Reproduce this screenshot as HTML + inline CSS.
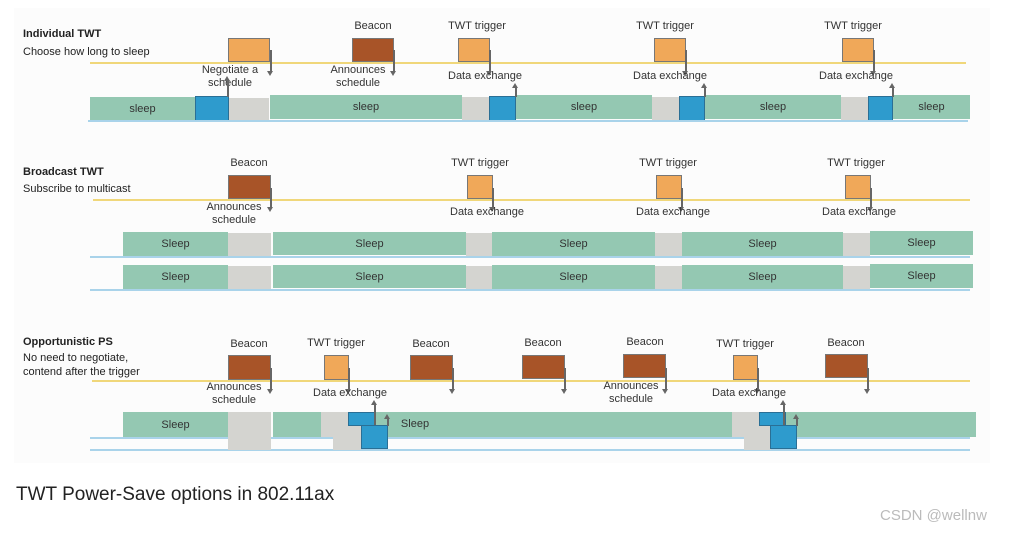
<!DOCTYPE html>
<html><head><meta charset="utf-8"><style>
body{margin:0;width:1012px;height:534px;background:#fff;position:relative;overflow:hidden;font-family:"Liberation Sans",sans-serif;}
.bg{position:absolute;left:14px;top:8px;width:976px;height:455px;background:#fcfcfc;}
div{position:absolute;box-sizing:border-box;}
.g{background:#94c8b2;color:#333;font-size:11px;text-align:center;display:flex;align-items:center;justify-content:center;}
.gr{background:#d4d4d0;}
.bl{background:#2e9bcd;border:1px solid #2a6f95;}
.or{background:#f0a859;border:1.5px solid #777;}
.br{background:#a85428;border:1.5px solid #777;}
.t{font-size:11px;color:#333;white-space:nowrap;text-align:center;line-height:13px;}
.h{font-size:11px;color:#222;white-space:nowrap;line-height:14px;}
.y{height:1.5px;background:#f0d77a;}
.lb{height:2px;background:#a9d3ea;}
.dn{width:1.5px;background:#666;}
.dn::after{content:"";position:absolute;left:-3px;bottom:-4px;border-left:3.5px solid transparent;border-right:3.5px solid transparent;border-top:5px solid #666;}
.up{width:1.5px;background:#666;}
.up::after{content:"";position:absolute;left:-3px;top:-4px;border-left:3.5px solid transparent;border-right:3.5px solid transparent;border-bottom:5px solid #666;}
</style></head><body>
<div class="bg"></div>

<!-- Section 1 -->
<div class="h" style="left:23px;top:27px;font-weight:bold">Individual TWT</div>
<div class="h" style="left:23px;top:45px">Choose how long to sleep</div>
<div class="y" style="left:90px;top:62px;width:876px"></div>
<div class="or" style="left:228px;top:38px;width:42px;height:24px"></div>
<div class="br" style="left:352px;top:38px;width:42px;height:24px"></div>
<div class="t" style="left:343px;top:20px;width:60px">Beacon</div>
<div class="or" style="left:458px;top:38px;width:32px;height:24px"></div>
<div class="or" style="left:654px;top:38px;width:32px;height:24px"></div>
<div class="or" style="left:842px;top:38px;width:32px;height:24px"></div>
<div class="t" style="left:437px;top:20px;width:80px">TWT trigger</div>
<div class="t" style="left:625px;top:20px;width:80px">TWT trigger</div>
<div class="t" style="left:813px;top:20px;width:80px">TWT trigger</div>
<div class="dn" style="left:270px;top:50px;height:22px"></div>
<div class="dn" style="left:393px;top:50px;height:22px"></div>
<div class="dn" style="left:489px;top:50px;height:22px"></div>
<div class="dn" style="left:685px;top:50px;height:22px"></div>
<div class="dn" style="left:873px;top:50px;height:22px"></div>
<div class="t" style="left:190px;top:64px;width:80px">Negotiate a<br>schedule</div>
<div class="t" style="left:318px;top:64px;width:80px">Announces<br>schedule</div>
<div class="t" style="left:440px;top:70px;width:90px">Data exchange</div>
<div class="t" style="left:625px;top:70px;width:90px">Data exchange</div>
<div class="t" style="left:811px;top:70px;width:90px">Data exchange</div>
<div class="g" style="left:90px;top:97px;width:105px;height:23px">sleep</div>
<div class="bl" style="left:195px;top:96px;width:34px;height:25px"></div>
<div class="gr" style="left:229px;top:98px;width:40px;height:22px"></div>
<div class="g" style="left:270px;top:95px;width:192px;height:24px">sleep</div>
<div class="gr" style="left:462px;top:97px;width:27px;height:23px"></div>
<div class="bl" style="left:489px;top:96px;width:27px;height:25px"></div>
<div class="g" style="left:516px;top:95px;width:136px;height:24px">sleep</div>
<div class="gr" style="left:652px;top:97px;width:27px;height:23px"></div>
<div class="bl" style="left:679px;top:96px;width:26px;height:25px"></div>
<div class="g" style="left:705px;top:95px;width:136px;height:24px">sleep</div>
<div class="gr" style="left:841px;top:97px;width:27px;height:23px"></div>
<div class="bl" style="left:868px;top:96px;width:25px;height:25px"></div>
<div class="g" style="left:893px;top:95px;width:77px;height:24px">sleep</div>
<div class="lb" style="left:88px;top:120px;width:880px"></div>
<div class="up" style="left:227px;top:80px;height:17px"></div>
<div class="up" style="left:515px;top:87px;height:10px"></div>
<div class="up" style="left:704px;top:87px;height:10px"></div>
<div class="up" style="left:892px;top:87px;height:10px"></div>

<!-- Section 2 -->
<div class="h" style="left:23px;top:165px;font-weight:bold">Broadcast TWT</div>
<div class="h" style="left:23px;top:182px">Subscribe to multicast</div>
<div class="y" style="left:93px;top:199px;width:877px"></div>
<div class="br" style="left:228px;top:175px;width:43px;height:24px"></div>
<div class="t" style="left:219px;top:157px;width:60px">Beacon</div>
<div class="or" style="left:467px;top:175px;width:26px;height:24px"></div>
<div class="or" style="left:656px;top:175px;width:26px;height:24px"></div>
<div class="or" style="left:845px;top:175px;width:26px;height:24px"></div>
<div class="t" style="left:440px;top:157px;width:80px">TWT trigger</div>
<div class="t" style="left:628px;top:157px;width:80px">TWT trigger</div>
<div class="t" style="left:816px;top:157px;width:80px">TWT trigger</div>
<div class="dn" style="left:270px;top:188px;height:20px"></div>
<div class="dn" style="left:492px;top:188px;height:20px"></div>
<div class="dn" style="left:681px;top:188px;height:20px"></div>
<div class="dn" style="left:870px;top:188px;height:20px"></div>
<div class="t" style="left:194px;top:201px;width:80px">Announces<br>schedule</div>
<div class="t" style="left:442px;top:206px;width:90px">Data exchange</div>
<div class="t" style="left:628px;top:206px;width:90px">Data exchange</div>
<div class="t" style="left:814px;top:206px;width:90px">Data exchange</div>

<div class="g" style="left:123px;top:232px;width:105px;height:24px">Sleep</div>
<div class="gr" style="left:228px;top:233px;width:43px;height:23px"></div>
<div class="g" style="left:273px;top:232px;width:193px;height:23px">Sleep</div>
<div class="gr" style="left:466px;top:233px;width:26px;height:23px"></div>
<div class="g" style="left:492px;top:232px;width:163px;height:24px">Sleep</div>
<div class="gr" style="left:655px;top:233px;width:27px;height:23px"></div>
<div class="g" style="left:682px;top:232px;width:161px;height:24px">Sleep</div>
<div class="gr" style="left:843px;top:233px;width:27px;height:23px"></div>
<div class="g" style="left:870px;top:231px;width:103px;height:24px">Sleep</div>
<div class="lb" style="left:90px;top:256px;width:880px;height:1.5px"></div>

<div class="g" style="left:123px;top:265px;width:105px;height:24px">Sleep</div>
<div class="gr" style="left:228px;top:266px;width:43px;height:23px"></div>
<div class="g" style="left:273px;top:265px;width:193px;height:23px">Sleep</div>
<div class="gr" style="left:466px;top:266px;width:26px;height:23px"></div>
<div class="g" style="left:492px;top:265px;width:163px;height:24px">Sleep</div>
<div class="gr" style="left:655px;top:266px;width:27px;height:23px"></div>
<div class="g" style="left:682px;top:265px;width:161px;height:24px">Sleep</div>
<div class="gr" style="left:843px;top:266px;width:27px;height:23px"></div>
<div class="g" style="left:870px;top:264px;width:103px;height:24px">Sleep</div>
<div class="lb" style="left:90px;top:289px;width:880px;height:1.5px"></div>

<!-- Section 3 -->
<div class="h" style="left:23px;top:335px;font-weight:bold">Opportunistic PS</div>
<div class="h" style="left:23px;top:351px">No need to negotiate,</div>
<div class="h" style="left:23px;top:365px">contend after the trigger</div>
<div class="y" style="left:92px;top:380px;width:878px"></div>
<div class="br" style="left:228px;top:355px;width:43px;height:25px"></div>
<div class="t" style="left:219px;top:338px;width:60px">Beacon</div>
<div class="or" style="left:324px;top:355px;width:25px;height:25px"></div>
<div class="t" style="left:296px;top:337px;width:80px">TWT trigger</div>
<div class="br" style="left:410px;top:355px;width:43px;height:25px"></div>
<div class="t" style="left:401px;top:338px;width:60px">Beacon</div>
<div class="br" style="left:522px;top:355px;width:43px;height:24px"></div>
<div class="t" style="left:513px;top:337px;width:60px">Beacon</div>
<div class="br" style="left:623px;top:354px;width:43px;height:24px"></div>
<div class="t" style="left:615px;top:336px;width:60px">Beacon</div>
<div class="or" style="left:733px;top:355px;width:25px;height:25px"></div>
<div class="t" style="left:705px;top:338px;width:80px">TWT trigger</div>
<div class="br" style="left:825px;top:354px;width:43px;height:24px"></div>
<div class="t" style="left:816px;top:337px;width:60px">Beacon</div>
<div class="dn" style="left:270px;top:368px;height:22px"></div>
<div class="dn" style="left:348px;top:368px;height:22px"></div>
<div class="dn" style="left:452px;top:368px;height:22px"></div>
<div class="dn" style="left:564px;top:368px;height:22px"></div>
<div class="dn" style="left:665px;top:368px;height:22px"></div>
<div class="dn" style="left:757px;top:368px;height:22px"></div>
<div class="dn" style="left:867px;top:368px;height:22px"></div>
<div class="t" style="left:194px;top:381px;width:80px">Announces<br>schedule</div>
<div class="t" style="left:591px;top:380px;width:80px">Announces<br>schedule</div>
<div class="t" style="left:305px;top:387px;width:90px">Data exchange</div>
<div class="t" style="left:704px;top:387px;width:90px">Data exchange</div>

<div class="lb" style="left:90px;top:437px;width:880px;height:1.5px"></div>
<div class="lb" style="left:90px;top:449px;width:880px;height:1.5px"></div>
<div class="g" style="left:123px;top:412px;width:105px;height:25px">Sleep</div>
<div class="gr" style="left:228px;top:412px;width:43px;height:38px"></div>
<div class="g" style="left:273px;top:412px;width:703px;height:25px"></div>
<div class="t" style="left:395px;top:418px;width:40px">Sleep</div>
<div class="gr" style="left:321px;top:412px;width:28px;height:25px"></div>
<div class="gr" style="left:333px;top:425px;width:28px;height:25px"></div>
<div class="bl" style="left:348px;top:412px;width:27px;height:14px"></div>
<div class="bl" style="left:361px;top:425px;width:27px;height:24px"></div>
<div class="gr" style="left:732px;top:412px;width:28px;height:25px"></div>
<div class="gr" style="left:744px;top:425px;width:27px;height:25px"></div>
<div class="bl" style="left:759px;top:412px;width:27px;height:14px"></div>
<div class="bl" style="left:770px;top:425px;width:27px;height:24px"></div>
<div class="up" style="left:374px;top:404px;height:21px"></div>
<div class="up" style="left:387px;top:418px;height:8px"></div>
<div class="up" style="left:783px;top:404px;height:21px"></div>
<div class="up" style="left:796px;top:418px;height:8px"></div>

<div style="left:16px;top:484px;font-size:19px;color:#222;white-space:nowrap">TWT Power-Save options in 802.11ax</div>
<div style="left:880px;top:507px;font-size:15px;color:#bbb;white-space:nowrap">CSDN @wellnw</div>
</body></html>
